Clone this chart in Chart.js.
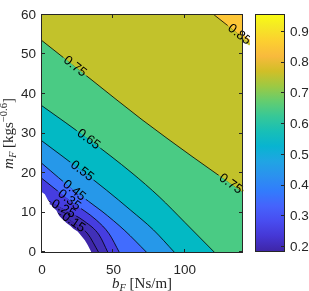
<!DOCTYPE html>
<html>
<head>
<meta charset="utf-8">
<script src="https://cdn.jsdelivr.net/npm/chart.js@4.4.1/dist/chart.umd.min.js"></script>
<style>
  body { margin: 0; background: #fff; }
  #wrap { position: relative; width: 309px; height: 291px; }
  #plot { position: absolute; left: 0; top: 0; }
  #cbar { position: absolute; left: 250px; top: 0; }
</style>
</head>
<body>
<div id="wrap">
  <canvas id="plot" width="250" height="291"></canvas>
  <canvas id="cbar" width="59" height="291"></canvas>
</div>
<script>
// contour levels and ticks
const levels = [0.15, 0.25, 0.35, 0.45, 0.55, 0.65, 0.75, 0.85];
const xTicks = [0, 50, 100];
const yTicks = [0, 10, 20, 30, 40, 50, 60];
const cbTicks = [0.2, 0.3, 0.4, 0.5, 0.6, 0.7, 0.8, 0.9];
const cRange = [0.187, 0.955];

// contour lines, points [b_F, m_F]
const c15 = [[6, 10.8], [22, 7.5], [32, 4.6], [39.5, 0]];
const c25 = [[0, 13.8], [16, 10.7], [30, 7.7], [40, 4.3], [46, 0]];
const c35 = [[0, 18.6], [21, 12.6], [38, 8.1], [47, 4.6], [54, 0]];
const c45 = [[0, 22.4], [23, 15.4], [42, 10.3], [58, 5.4], [73, 0]];
const c55 = [[0, 28.1], [28, 20.5], [45, 15.7], [62, 10.6], [78, 5.6], [92.5, 0]];
const c65 = [[0, 37], [33.5, 28.3], [63, 20], [82, 14], [100, 7.5], [120.5, 0]];
const c75 = [[0, 53.5], [35, 43.5], [70, 33.5], [105, 24.2], [140, 15.2], [150, 12.5]];
const c85 = [[0, 96], [60, 78], [120.6, 60], [140, 54.5], [150, 51.6]];
// edge of the region with no data (white)
const nanEdge = [[0, 15.1], [2, 14.6], [4, 13.2], [6, 12.2], [8, 11.2], [10, 10.6], [12, 9.2],
  [14, 8.4], [17, 7.4], [20, 6.6], [22, 5.9], [25, 5.2], [27, 4.3], [30, 3.0], [32, 1.8], [34.5, 0]];

const contours = [c15, c25, c35, c45, c55, c65, c75, c85];

// band colours (parula), from lowest band up
const bandColors = ['#3e26a8', '#4130b8', '#463de0', '#416cfe', '#2698e9', '#03b9c4', '#4acb84', '#c2c22b', '#fdc637'];
const parula = [
  [0, '#3e26a8'], [4, '#4537d5'], [8, '#484df0'], [12, '#4563fc'], [16, '#327cfc'], [20, '#2b91ef'],
  [24, '#20a5e3'], [28, '#08b4d0'], [32, '#18bfb6'], [36, '#37c897'], [40, '#64cd6f'], [44, '#9dc943'],
  [48, '#d1bf27'], [52, '#f8ba3d'], [56, '#fccf30'], [60, '#f5e924'], [63, '#f9fb14']
];

// where the contour labels sit (b_F along the line)
const labelSpots = [[0.85, 138], [0.75, 23], [0.75, 132], [0.65, 32.6], [0.55, 28], [0.45, 22.5], [0.35, 19], [0.25, 15], [0.15, 22]];

const axisCol = '#262626';
const sansFont = '"Liberation Sans", Arial, sans-serif';
const serifFont = '"Liberation Serif", "Times New Roman", serif';

function yOn(pts, x) {
  for (let i = 0; i < pts.length - 1; i++) {
    const a = pts[i], b = pts[i + 1];
    if (x >= a[0] && x <= b[0]) return a[1] + (b[1] - a[1]) * (x - a[0]) / (b[0] - a[0]);
  }
  return pts[pts.length - 1][1];
}

// text made of pieces: [text, style, size, shift]
function richText(ctx, parts, x, y) {
  let w = 0;
  parts.forEach(p => { ctx.font = p[1] + ' ' + p[2] + 'px ' + serifFont; w += ctx.measureText(p[0]).width; });
  let cx = x - w / 2;
  ctx.textAlign = 'left';
  ctx.textBaseline = 'alphabetic';
  parts.forEach(p => {
    ctx.font = p[1] + ' ' + p[2] + 'px ' + serifFont;
    ctx.fillText(p[0], cx, y + p[3]);
    cx += ctx.measureText(p[0]).width;
  });
}

const toXY = pts => pts.map(p => ({ x: p[0], y: p[1] }));

const datasets = [{
  data: toXY(nanEdge), fill: 'origin', backgroundColor: '#ffffff',
  borderColor: 'rgba(0,0,0,0)', borderWidth: 0, pointRadius: 0
}];
contours.forEach((pts, i) => {
  datasets.push({
    data: toXY(pts), fill: 'origin', backgroundColor: bandColors[i],
    borderColor: '#000', borderWidth: 0.8, pointRadius: 0,
    cubicInterpolationMode: 'monotone'
  });
});

const plotDeco = {
  id: 'plotDeco',
  beforeDatasetsDraw(chart) {
    const { ctx, chartArea: a } = chart;
    ctx.save();
    ctx.fillStyle = bandColors[8];
    ctx.fillRect(a.left, a.top, a.width, a.height);
    ctx.restore();
  },
  afterDatasetsDraw(chart) {
    const { ctx, chartArea: a } = chart;
    const xs = chart.scales.x, ys = chart.scales.y;
    ctx.save();
    // contour labels
    ctx.font = '13px ' + sansFont;
    labelSpots.forEach(([lv, bx]) => {
      const i = levels.indexOf(lv);
      const pts = contours[i];
      const px = xs.getPixelForValue(bx), py = ys.getPixelForValue(yOn(pts, bx));
      const x1 = xs.getPixelForValue(bx - 2), y1 = ys.getPixelForValue(yOn(pts, bx - 2));
      const x2 = xs.getPixelForValue(bx + 2), y2 = ys.getPixelForValue(yOn(pts, bx + 2));
      const ang = Math.atan2(y2 - y1, x2 - x1);
      const txt = lv.toFixed(2);
      const w = ctx.measureText(txt).width + 4;
      ctx.save();
      ctx.translate(px, py);
      ctx.rotate(ang);
      ctx.fillStyle = bandColors[i + 1];
      ctx.fillRect(-w / 2, -2.5, w, 2.5);
      ctx.fillStyle = bandColors[i];
      ctx.fillRect(-w / 2, 0, w, 2.5);
      ctx.fillStyle = '#000';
      ctx.textAlign = 'center';
      ctx.textBaseline = 'middle';
      ctx.fillText(txt, 0, 0);
      ctx.restore();
    });
    // box and inward ticks
    ctx.strokeStyle = axisCol;
    ctx.lineWidth = 1;
    ctx.strokeRect(a.left - 0.5, a.top - 0.5, a.width + 1, a.height + 1);
    ctx.beginPath();
    xTicks.forEach(v => {
      const p = Math.round(xs.getPixelForValue(v)) - 0.5;
      ctx.moveTo(p, a.bottom); ctx.lineTo(p, a.bottom - 3);
      ctx.moveTo(p, a.top); ctx.lineTo(p, a.top + 3);
    });
    yTicks.forEach(v => {
      const p = Math.round(ys.getPixelForValue(v)) - 0.5;
      ctx.moveTo(a.left, p); ctx.lineTo(a.left + 3, p);
      ctx.moveTo(a.right, p); ctx.lineTo(a.right - 3, p);
    });
    ctx.stroke();
    // axis titles
    ctx.fillStyle = axisCol;
    richText(ctx, [['b', 'italic', 15, 0], ['F', 'italic', 10.5, 3], [' [Ns/m]', 'normal', 15, 0]],
      (a.left + a.right) / 2, 288);
    ctx.save();
    ctx.translate(13, (a.top + a.bottom) / 2);
    ctx.rotate(-Math.PI / 2);
    richText(ctx, [['m', 'italic', 15, 0], ['F', 'italic', 10.5, 3], [' [kgs', 'normal', 15, 0],
      ['\u22120.6', 'normal', 10.5, -6], [']', 'normal', 15, 0]], 0, 0);
    ctx.restore();
    ctx.restore();
  }
};

new Chart(document.getElementById('plot'), {
  type: 'line',
  data: { datasets: datasets },
  options: {
    responsive: false,
    animation: false,
    layout: { padding: { left: 0, right: 8, top: 15, bottom: 0 } },
    plugins: { legend: { display: false }, tooltip: { enabled: false } },
    scales: {
      x: {
        type: 'linear', min: 0, max: 140,
        afterBuildTicks: s => { s.ticks = xTicks.map(v => ({ value: v })); },
        afterFit: s => { s.height = 39; },
        grid: { display: false, drawTicks: false },
        border: { display: false },
        ticks: { padding: 10, color: axisCol, font: { family: sansFont, size: 13.5 }, maxRotation: 0 }
      },
      y: {
        type: 'linear', min: 0, max: 60,
        afterBuildTicks: s => { s.ticks = yTicks.map(v => ({ value: v })); },
        afterFit: s => { s.width = 42; },
        grid: { display: false, drawTicks: false },
        border: { display: false },
        ticks: { padding: 6, color: axisCol, font: { family: sansFont, size: 13.5 } }
      }
    }
  },
  plugins: [plotDeco]
});

// colour bar
const cbarDeco = {
  id: 'cbarDeco',
  afterDatasetsDraw(chart) {
    const { ctx, chartArea: a } = chart;
    const ys = chart.scales.y;
    ctx.save();
    ctx.strokeStyle = axisCol;
    ctx.lineWidth = 1;
    ctx.strokeRect(a.left - 0.5, a.top - 0.5, a.width + 1, a.height + 1);
    ctx.beginPath();
    cbTicks.forEach(v => {
      const p = Math.round(ys.getPixelForValue(v)) - 0.5;
      ctx.moveTo(a.right, p); ctx.lineTo(a.right - 3, p);
    });
    ctx.stroke();
    ctx.restore();
  }
};

new Chart(document.getElementById('cbar'), {
  type: 'bar',
  data: {
    labels: [''],
    datasets: [{
      data: [cRange],
      backgroundColor: c => {
        const ch = c.chart;
        if (!ch.chartArea) return null;
        const ys = ch.scales.y;
        const g = ch.ctx.createLinearGradient(0, ys.getPixelForValue(cRange[0]), 0, ys.getPixelForValue(cRange[1]));
        parula.forEach(s => g.addColorStop(s[0] / 63, s[1]));
        return g;
      },
      borderWidth: 0,
      barPercentage: 1,
      categoryPercentage: 1
    }]
  },
  options: {
    responsive: false,
    animation: false,
    layout: { padding: { left: 6, right: 0, top: 15, bottom: 40 } },
    plugins: { legend: { display: false }, tooltip: { enabled: false } },
    scales: {
      x: { display: false },
      y: {
        position: 'right', min: cRange[0], max: cRange[1],
        afterBuildTicks: s => { s.ticks = cbTicks.map(v => ({ value: v })); },
        afterFit: s => { s.width = 25; },
        grid: { display: false, drawTicks: false },
        border: { display: false },
        ticks: { padding: 6, color: axisCol, font: { family: sansFont, size: 13.5 }, callback: v => v.toFixed(1) }
      }
    }
  },
  plugins: [cbarDeco]
});
</script>
</body>
</html>
